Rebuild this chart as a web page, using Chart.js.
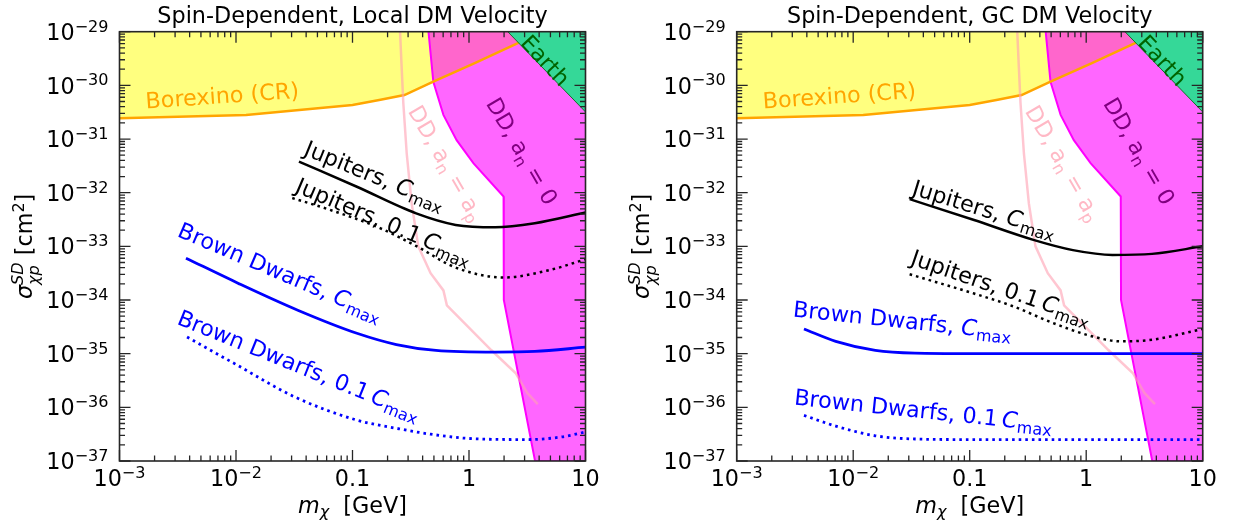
<!DOCTYPE html>
<html><head><meta charset="utf-8">
<script src="https://cdn.jsdelivr.net/npm/chart.js@4.4.1/dist/chart.umd.min.js"></script>
<style>
html,body{margin:0;padding:0;background:#fff;}
#wrap{position:relative;width:1237px;height:525px;overflow:hidden;background:#fff;}
canvas{position:absolute;top:0;}
</style></head><body>
<div id="wrap">
<canvas id="cLocal" width="618" height="525" style="left:0px"></canvas>
<canvas id="cGC" width="620" height="525" style="left:617px"></canvas>
</div>
<script>
// ---------- axis ranges & ticks ----------
const MASS_MIN = 1e-3, MASS_MAX = 10;
const SIGMA_MIN = 1e-37, SIGMA_MAX = 1e-29;
const massTicks = [1e-3, 1e-2, 0.1, 1, 10];
const massTickLabels = [['10','−3'], ['10','−2'], ['0.1',''], ['1',''], ['10','']];
const sigmaTicks = [1e-29, 1e-30, 1e-31, 1e-32, 1e-33, 1e-34, 1e-35, 1e-36, 1e-37];
const sigmaTickLabels = [['10','−29'],['10','−30'],['10','−31'],['10','−32'],['10','−33'],['10','−34'],['10','−35'],['10','−36'],['10','−37']];
const titles = ['Spin-Dependent, Local DM Velocity', 'Spin-Dependent, GC DM Velocity'];

// ---------- shared exclusion regions ----------
const borexinoMass  = [0.001, 0.0122, 0.1, 0.174, 0.279, 0.494, 1.12, 2.57, 4.0];
const borexinoSigma = [2.43e-31, 2.80e-31, 4.31e-31, 5.37e-31, 6.6e-31, 1.17e-30, 2.6e-30, 6.0e-30, 1.0e-29];

const ddZeroMass  = [0.449, 0.494, 0.603, 0.783, 1.09, 1.98, 1.99, 3.69, 10];
const ddZeroSigma = [1e-29, 1.17e-30, 2.82e-31, 9.55e-32, 3.55e-32, 8.5e-33, 1e-34, 1e-37, 1e-37];

const ddEqualMass  = [0.256, 0.264, 0.273, 0.292, 0.322, 0.367, 0.468, 0.603, 0.646, 1.55, 2.51, 3.16, 3.89];
const ddEqualSigma = [1e-29, 2.24e-30, 4.68e-31, 5.37e-32, 6.31e-33, 1e-33, 3.16e-34, 1.51e-34, 7.94e-35, 1.17e-35, 4.37e-36, 1.86e-36, 1.15e-36];

const earthMass  = [2.15, 10];
const earthSigma = [1e-29, 3.2e-31];

// ---------- Local DM velocity ----------
const jupLocalMass  = [0.0347, 0.109, 0.352, 0.769, 1.68, 3.67, 10];
const jupLocalSigma = [3.8e-32, 1.29e-32, 4.12e-33, 2.51e-33, 2.26e-33, 2.69e-33, 4.27e-33];
const jupTenthLocalMass  = [0.0304, 0.0641, 0.172, 0.379, 0.687, 1.24, 2.0, 4.95, 10];
const jupTenthLocalSigma = [7.94e-33, 4.79e-33, 2.19e-33, 9.3e-34, 4.47e-34, 2.95e-34, 2.63e-34, 3.63e-34, 5.75e-34];
const bdLocalMass  = [0.00372, 0.0105, 0.0339, 0.109, 0.238, 0.52, 1.68, 3.67, 10];
const bdLocalSigma = [6.03e-34, 2.04e-34, 6.46e-35, 2.4e-35, 1.48e-35, 1.15e-35, 1.07e-35, 1.1e-35, 1.32e-35];
const bdTenthLocalMass  = [0.0038, 0.01, 0.0316, 0.11, 0.251, 0.468, 1, 3.16, 6.31, 10];
const bdTenthLocalSigma = [2.04e-35, 6.3e-36, 1.58e-36, 5.75e-37, 3.98e-37, 3.16e-37, 2.63e-37, 2.51e-37, 2.82e-37, 3.47e-37];

// ---------- GC DM velocity ----------
const jupGCMass  = [0.0305, 0.109, 0.352, 0.769, 1.68, 3.67, 10];
const jupGCSigma = [7.59e-33, 3.09e-33, 1.32e-33, 8.5e-34, 6.92e-34, 7.24e-34, 1e-33];
const jupTenthGCMass  = [0.0305, 0.109, 0.238, 0.52, 1.14, 1.97, 3.67, 10];
const jupTenthGCSigma = [3.02e-34, 1.32e-34, 7.59e-35, 3.72e-35, 2.09e-35, 1.7e-35, 1.82e-35, 2.88e-35];
const bdGCMass  = [0.00378, 0.00708, 0.0155, 0.0339, 0.1, 1, 10];
const bdGCSigma = [2.88e-35, 1.7e-35, 1.15e-35, 1.02e-35, 1e-35, 1e-35, 1e-35];
const bdTenthGCMass  = [0.00378, 0.00708, 0.0155, 0.0339, 0.1, 1, 10];
const bdTenthGCSigma = [7.08e-37, 4.47e-37, 2.95e-37, 2.57e-37, 2.51e-37, 2.51e-37, 2.51e-37];

// ---------- styles ----------
const FS = 22.3;
const FONT = '"DejaVu Sans", "Liberation Sans", sans-serif';
const ORANGE = '#ffa500', BLUE = '#0000ff', BLACK = '#000000';
const PINK_LINE = 'rgba(255,160,178,0.6)', PINK_TEXT = 'rgba(255,160,178,0.75)';
const PURPLE = '#800080', DKGREEN = '#006400';
const FRAME = '#262626';

// rich text helpers
const R = t => ({t}), I = t => ({t, i:true}), SUB = t => ({t, s:'sub'}), SUP = t => ({t, s:'sup'});
const ISUB = t => ({t, s:'sub', i:true}), STACK = (sup, sub) => ({stack:true, sup, sub});

const sharedLabels = [
  {parts:[R('Borexino (CR)')], x:0.0076, y:6.6e-31, angle:-4, color:ORANGE},
  {parts:[R('DD, a'), SUB('n'), R(' = a'), SUB('p')], x:0.644, y:3.6e-32, angle:60, color:PINK_TEXT},
  {parts:[R('DD, a'), SUB('n'), R(' = 0')], x:2.88, y:6.0e-32, angle:60, color:PURPLE},
  {parts:[R('Earth')], x:4.56, y:2.96e-30, angle:47, color:DKGREEN},
];
const labelsLocal = sharedLabels.concat([
  {parts:[R('Jupiters, '), I('C'), SUB('max')], x:0.156, y:2.14e-32, angle:22, color:BLACK},
  {parts:[R('Jupiters, 0.1\u2009'), I('C'), SUB('max')], x:0.187, y:2.99e-33, angle:23, color:BLACK},
  {parts:[R('Brown Dwarfs, '), I('C'), SUB('max')], x:0.0241, y:3.4e-34, angle:23, color:BLUE},
  {parts:[R('Brown Dwarfs, 0.1\u2009'), I('C'), SUB('max')], x:0.0349, y:6.2e-36, angle:22, color:BLUE},
]);
const labelsGC = sharedLabels.concat([
  {parts:[R('Jupiters, '), I('C'), SUB('max')], x:0.134, y:5.1e-33, angle:17, color:BLACK},
  {parts:[R('Jupiters, 0.1\u2009'), I('C'), SUB('max')], x:0.187, y:1.74e-34, angle:19, color:BLACK},
  {parts:[R('Brown Dwarfs, '), I('C'), SUB('max')], x:0.0265, y:4.27e-35, angle:6, color:BLUE},
  {parts:[R('Brown Dwarfs, 0.1\u2009'), I('C'), SUB('max')], x:0.0401, y:8.9e-37, angle:6, color:BLUE},
]);

function fontStr(size, italic){ return (italic ? 'italic ' : '') + size + 'px ' + FONT; }
function layoutRich(ctx, parts, fs) {
  const items = []; let x = 0; const s = fs * 0.72;
  for (const p of parts) {
    if (p.stack) {
      ctx.font = fontStr(s, true);
      const w1 = ctx.measureText(p.sup).width, w2 = ctx.measureText(p.sub).width;
      items.push({t:p.sup, x, dy:-0.40*fs, size:s, it:true});
      items.push({t:p.sub, x, dy:0.30*fs, size:s, it:true});
      x += Math.max(w1, w2);
    } else {
      const size = p.s ? s : fs;
      ctx.font = fontStr(size, p.i);
      const w = ctx.measureText(p.t).width;
      items.push({t:p.t, x, dy: p.s === 'sup' ? -0.37*fs : (p.s === 'sub' ? 0.2*fs : 0), size, it:p.i});
      x += w;
    }
  }
  return {items, width:x};
}
function drawRich(ctx, parts, px, py, angleDeg, fs, color, align, baselineMode) {
  const L = layoutRich(ctx, parts, fs);
  ctx.save();
  ctx.translate(px, py);
  ctx.rotate(angleDeg * Math.PI / 180);
  ctx.fillStyle = color; ctx.textBaseline = 'alphabetic'; ctx.textAlign = 'left';
  const x0 = align === 'right' ? -L.width : (align === 'left' ? 0 : -L.width / 2);
  const by = baselineMode === 'baseline' ? 0 : 0.365 * fs;
  for (const it of L.items) { ctx.font = fontStr(it.size, it.it); ctx.fillText(it.t, x0 + it.x, by + it.dy); }
  ctx.restore();
}
function minorValues(majors) {
  const out = [];
  for (let i = 0; i < majors.length - 1; i++) {
    const lo = Math.min(majors[i], majors[i+1]);
    for (let k = 2; k <= 9; k++) out.push(lo * k);
  }
  return out;
}

function makeDecor(title, labels) {
  return {
    id: 'decor',
    afterDatasetsDraw(chart) {
      const ctx = chart.ctx, xs = chart.scales.x, ys = chart.scales.y, a = chart.chartArea;
      ctx.save();
      ctx.beginPath(); ctx.rect(a.left, a.top, a.right - a.left, a.bottom - a.top); ctx.clip();
      for (const l of labels) {
        drawRich(ctx, l.parts, xs.getPixelForValue(l.x), ys.getPixelForValue(l.y), l.angle, FS, l.color, 'center');
      }
      ctx.restore();
    },
    afterDraw(chart) {
      const ctx = chart.ctx, xs = chart.scales.x, ys = chart.scales.y, a = chart.chartArea;
      ctx.save();
      // ticks (inward, all four sides)
      ctx.strokeStyle = FRAME; ctx.lineWidth = 1.3;
      const MAJ = 11, MIN = 5.5;
      ctx.beginPath();
      for (const v of massTicks) { const p = xs.getPixelForValue(v);
        ctx.moveTo(p, a.bottom); ctx.lineTo(p, a.bottom - MAJ); ctx.moveTo(p, a.top); ctx.lineTo(p, a.top + MAJ); }
      for (const v of minorValues(massTicks)) { const p = xs.getPixelForValue(v);
        ctx.moveTo(p, a.bottom); ctx.lineTo(p, a.bottom - MIN); ctx.moveTo(p, a.top); ctx.lineTo(p, a.top + MIN); }
      for (const v of sigmaTicks) { const p = ys.getPixelForValue(v);
        ctx.moveTo(a.left, p); ctx.lineTo(a.left + MAJ, p); ctx.moveTo(a.right, p); ctx.lineTo(a.right - MAJ, p); }
      for (const v of minorValues(sigmaTicks)) { const p = ys.getPixelForValue(v);
        ctx.moveTo(a.left, p); ctx.lineTo(a.left + MIN, p); ctx.moveTo(a.right, p); ctx.lineTo(a.right - MIN, p); }
      ctx.stroke();
      // frame
      ctx.lineWidth = 1.6;
      ctx.strokeRect(a.left, a.top, a.right - a.left, a.bottom - a.top);
      // tick labels
      massTicks.forEach((v, i) => {
        const lab = massTickLabels[i];
        const parts = lab[1] ? [R(lab[0]), SUP(lab[1])] : [R(lab[0])];
        drawRich(ctx, parts, xs.getPixelForValue(v), a.bottom + 25, 0, FS, '#000', 'center', 'baseline');
      });
      sigmaTicks.forEach((v, i) => {
        const lab = sigmaTickLabels[i];
        drawRich(ctx, [R(lab[0]), SUP(lab[1])], a.left - 11, ys.getPixelForValue(v), 0, FS, '#000', 'right');
      });
      // title & axis titles
      const cx = (a.left + a.right) / 2, cy = (a.top + a.bottom) / 2;
      drawRich(ctx, [R(title)], cx, 23.3, 0, FS, '#000', 'center', 'baseline');
      drawRich(ctx, [I('m'), ISUB('χ'), R('  [GeV]')], cx, 513, 0, FS, '#000', 'center', 'baseline');
      drawRich(ctx, [I('σ'), STACK('SD', 'χp'), R(' [cm'), SUP('2'), R(']')], 24, cy, -90, FS, '#000', 'center');
      ctx.restore();
    }
  };
}

const pts = (xs, ys) => xs.map((x, i) => ({x, y: ys[i]}));

function regionSets() {
  return [
    {data: pts(borexinoMass, borexinoSigma), fill:'end', backgroundColor:'rgba(255,255,0,0.5)', borderWidth:0, pointRadius:0, order:10},
    {data: pts(ddZeroMass, ddZeroSigma), fill:'end', backgroundColor:'rgba(255,0,255,0.6)', borderColor:'#ff00ff', borderWidth:2, pointRadius:0, order:9},
    {data: pts(borexinoMass, borexinoSigma), fill:false, borderColor:ORANGE, borderWidth:2.5, pointRadius:0, order:8},
    {data: pts(ddEqualMass, ddEqualSigma), fill:false, borderColor:PINK_LINE, borderWidth:2.5, pointRadius:0, order:7},
    {data: pts(earthMass, earthSigma), fill:'end', backgroundColor:'#35d898', borderColor:'#1c6b2c', borderWidth:1, pointRadius:0, order:6},
  ];
}
function curve(xs, ys, color, dotted, width) {
  const d = {data: pts(xs, ys), fill:false, borderColor:color, borderWidth:width, pointRadius:0,
             cubicInterpolationMode:'monotone', borderCapStyle:'butt', order:1};
  if (dotted) d.borderDash = [2.6, 4.0];
  return d;
}

function makeChart(id, title, curves, labels, padL, padR) {
  return new Chart(document.getElementById(id), {
    type: 'line',
    data: { datasets: regionSets().concat(curves) },
    options: {
      responsive: false, animation: false, events: [],
      layout: { padding: { left: padL, right: padR, top: 31.7, bottom: 64 } },
      plugins: { legend: {display:false}, tooltip: {enabled:false}, title: {display:false} },
      scales: {
        x: { type:'logarithmic', min:MASS_MIN, max:MASS_MAX, display:false },
        y: { type:'logarithmic', min:SIGMA_MIN, max:SIGMA_MAX, display:false }
      }
    },
    plugins: [makeDecor(title, labels)]
  });
}

makeChart('cLocal', titles[0], [
  curve(jupLocalMass, jupLocalSigma, BLACK, false, 2.5),
  curve(jupTenthLocalMass, jupTenthLocalSigma, BLACK, true, 2.5),
  curve(bdLocalMass, bdLocalSigma, BLUE, false, 2.8),
  curve(bdTenthLocalMass, bdTenthLocalSigma, BLUE, true, 2.8),
], labelsLocal, 119.5, 32.5);

makeChart('cGC', titles[1], [
  curve(jupGCMass, jupGCSigma, BLACK, false, 2.5),
  curve(jupTenthGCMass, jupTenthGCSigma, BLACK, true, 2.5),
  curve(bdGCMass, bdGCSigma, BLUE, false, 2.8),
  curve(bdTenthGCMass, bdTenthGCSigma, BLUE, true, 2.8),
], labelsGC, 119.7, 34.3);
</script>
</body></html>
